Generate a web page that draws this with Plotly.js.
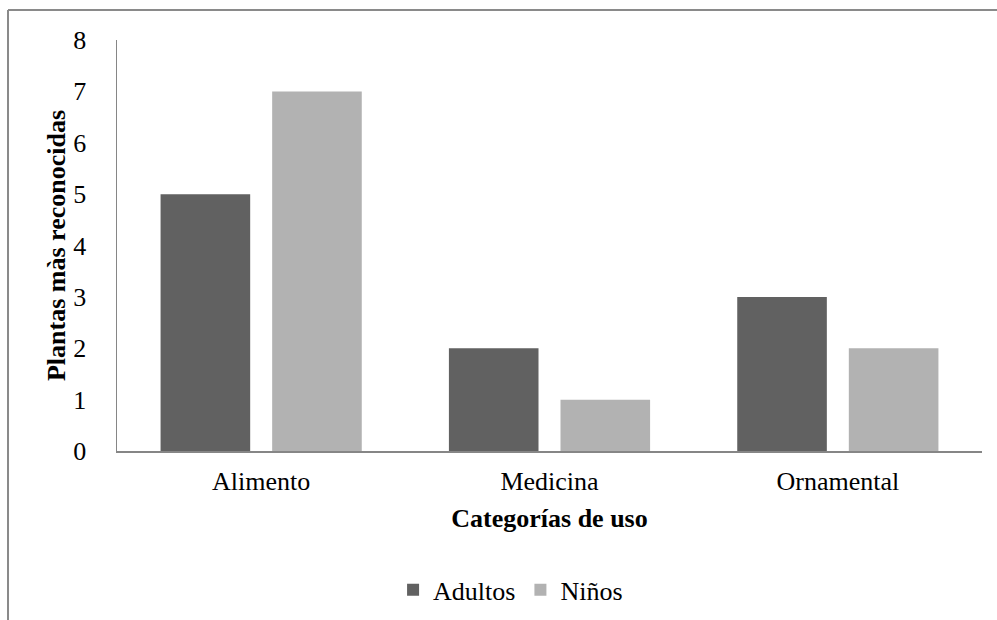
<!DOCTYPE html>
<html>
<head>
<meta charset="utf-8">
<script src="https://cdn.plot.ly/plotly-3.0.1.min.js"></script>
<style>
  html, body { margin: 0; padding: 0; background: #ffffff; }
  #chart { width: 997px; height: 620px; }
</style>
</head>
<body>
<div id="chart"></div>
<script>
// Plant-use categories and the number of plants recognised by each group
const categories = ['Alimento', 'Medicina', 'Ornamental'];
const adultos = [5, 2, 3];
const ninos = [7, 1, 2];
const seriesNames = ['Adultos', 'Niños'];
const yTicks = [0, 1, 2, 3, 4, 5, 6, 7, 8];

const serif = '"Liberation Serif", "Times New Roman", serif';

const traces = [
  { type: 'bar', name: seriesNames[0], x: categories, y: adultos,
    marker: { color: '#616161' }, hoverinfo: 'x+y' },
  { type: 'bar', name: seriesNames[1], x: categories, y: ninos,
    marker: { color: '#b2b2b2' }, hoverinfo: 'x+y' }
];

const layout = {
  width: 997, height: 620,
  margin: { l: 117, r: 15, t: 40, b: 169, autoexpand: false },
  paper_bgcolor: '#ffffff', plot_bgcolor: '#ffffff',
  font: { family: serif, size: 26, color: '#000000' },
  barmode: 'group',
  bargap: 0.226,
  bargroupgap: 0.197,
  showlegend: true,
  legend: {
    orientation: 'h', x: 0.455, xanchor: 'center', y: -0.338, yanchor: 'middle',
    font: { family: serif, size: 26, color: '#000000' },
    itemwidth: 30, traceorder: 'normal'
  },
  xaxis: {
    type: 'category', automargin: false,
    showgrid: false, zeroline: false,
    showline: true, linecolor: '#868686', linewidth: 1.5,
    ticks: '', ticklabelstandoff: 6,
    tickfont: { family: serif, size: 26, color: '#000000' },
    title: { text: '<b>Categorías de uso</b>', standoff: 14,
             font: { family: serif, size: 26, color: '#000000' } }
  },
  yaxis: {
    range: [0, 8], tickvals: yTicks, ticktext: yTicks.map(String), automargin: false,
    showgrid: false, zeroline: false,
    showline: true, linecolor: '#868686', linewidth: 1.5,
    ticks: '', ticklabelstandoff: 24,
    tickfont: { family: serif, size: 26, color: '#000000' },
    title: { text: '<b>Plantas màs reconocidas</b>', standoff: 0,
             font: { family: serif, size: 26, color: '#000000' } }
  },
  shapes: [
    // outer chart frame (top and left edges)
    { type: 'line', xref: 'paper', yref: 'paper', x0: -0.126, x1: 1.1, y0: 1.073, y1: 1.073,
      line: { color: '#8a8a8a', width: 2 } },
    { type: 'line', xref: 'paper', yref: 'paper', x0: -0.126, x1: -0.126, y0: 1.073, y1: -0.6,
      line: { color: '#8a8a8a', width: 2 } }
  ]
};

Plotly.newPlot('chart', traces, layout, { displayModeBar: false, staticPlot: true });
</script>
</body>
</html>
